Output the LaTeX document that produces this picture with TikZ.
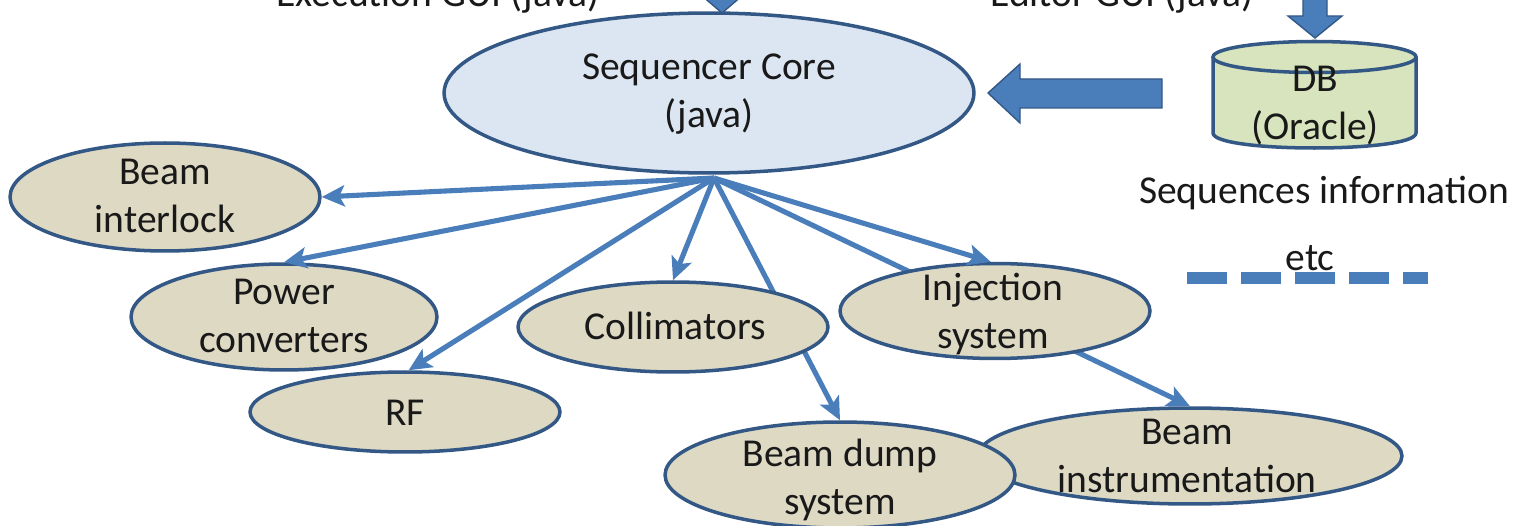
\documentclass[tikz,border=0pt]{standalone}
\usepackage{fontspec}
\setmainfont{Carlito}
\usetikzlibrary{arrows.meta,calc,shapes.geometric}
\definecolor{bdr}{RGB}{52,88,134}
\definecolor{arr}{RGB}{74,126,187}
\definecolor{compfill}{RGB}{221,217,195}
\definecolor{corefill}{RGB}{220,230,242}
\definecolor{dbfill}{RGB}{215,228,189}
\definecolor{txt}{RGB}{25,25,25}
\tikzset{
  comp/.style={ellipse, draw=bdr, fill=compfill, line width=2pt, inner sep=0pt},
  lbl/.style={text=txt, align=center, font=\fontsize{22.5}{27.3}\selectfont, inner sep=0pt},
  conn/.style={draw=arr, line width=2.9pt, -{Stealth[length=13pt,width=12pt,inset=3pt]}},
  blockarr/.style={fill=arr, draw=bdr, line width=0.8pt},
}
\begin{document}
\begin{tikzpicture}[x=0.02cm,y=-0.02cm]
\useasboundingbox (0,0) rectangle (1517,526);
\clip (0,0) rectangle (1517,526);

% top texts (cut by the frame, as in the reference)
\node[lbl, anchor=base] (exgui) at (438,7) {Execution GUI (java)};
\node[lbl, anchor=base] (edgui) at (1122,7) {Editor GUI (java)};

% sequencer core
\node[comp, fill=corefill, minimum width=10.6cm, minimum height=3.2cm] (core) at (709,93) {};
\node[lbl] (coretxt) at (709,94) {Sequencer Core\\(java)};

% block arrows
\draw[blockarr] (722,13) -- (750,-11) -- (736,-11) -- (736,-40) -- (708,-40) -- (708,-11) -- (694,-11) -- cycle;
\draw[blockarr] (988,93) -- (1020,64) -- (1020,79) -- (1162,79) -- (1162,108) -- (1020,108) -- (1020,123) -- cycle;
\draw[blockarr] (1315,38) -- (1342,16) -- (1327,16) -- (1327,-20) -- (1303,-20) -- (1303,16) -- (1288,16) -- cycle;

% DB cylinder
\path[fill=dbfill, draw=bdr, line width=2pt] (1213,57) -- (1213,133) .. controls (1213,153) and (1416,153) .. (1416,133) -- (1416,57);
\draw[fill=dbfill, draw=bdr, line width=2pt] (1314.5,57) ellipse [x radius=2.03cm, y radius=0.31cm];
\node[lbl] (db) at (1315,106) {DB\\(Oracle)};

% lower components
\node[comp, minimum width=8.48cm, minimum height=1.92cm] (instr) at (1190,456) {};
\node[lbl] at (1187,456) {Beam\\instrumentation};
\node[comp, minimum width=7.0cm, minimum height=2.12cm] (bd) at (840,475) {};
\node[lbl] at (840,480) {Beam dump\\system};

\coordinate (hub) at (714,178);
\draw[conn] (hub) -- (bd.north);
\draw[conn] (hub) -- (instr.north);

\node[comp, minimum width=6.2cm, minimum height=1.8cm] (col) at (673,327) {};
\node[lbl] at (675,326) {Collimators};
\node[comp, minimum width=6.2cm, minimum height=1.9cm] (inj) at (995,311) {};
\node[lbl] at (993,314) {Injection\\system};

\node[comp, minimum width=6.2cm, minimum height=2.16cm] (bi) at (165,197) {};
\node[lbl] at (165,196) {Beam\\interlock};
\node[comp, minimum width=6.12cm, minimum height=2.12cm] (pc) at (284,317) {};
\node[lbl] at (284,316) {Power\\converters};
\node[comp, minimum width=6.2cm, minimum height=1.6cm] (rf) at (405,412) {};
\node[lbl] at (405,413) {RF};

\draw[conn] (hub) -- (bi.east);
\draw[conn] (hub) -- (pc.north);
\draw[conn] (hub) -- (rf.85);
\draw[conn] (hub) -- (col.north);
\draw[conn] (hub) -- (inj.95);

% legend
\node[lbl] (seqinfo) at (1324,193) {Sequences information};
\coordinate (dl1) at (1187,278);
\coordinate (dl2) at (1428,278);
\draw[arr, line width=6.8pt, dash pattern=on 0.8cm off 0.28cm] (dl1) -- (dl2);
\node[lbl] (etc) at (1310,258) {etc};
\end{tikzpicture}
\end{document}
